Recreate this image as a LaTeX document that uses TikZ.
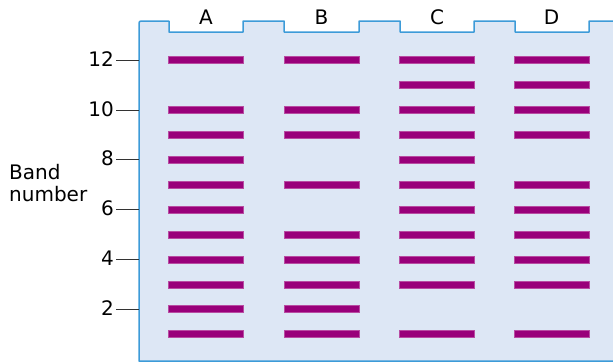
\documentclass[tikz,border=0pt]{standalone}
\usepackage{fontspec}
\setmainfont{DejaVu Sans}
\definecolor{gel}{HTML}{DDE7F5}
\definecolor{gelline}{HTML}{3D9BD8}
\definecolor{bandc}{HTML}{99007A}
\begin{document}
\begin{tikzpicture}[x=1pt,y=-1pt,
  font=\fontsize{20}{23}\selectfont,
  bandbox/.style={fill=bandc, draw=bandc!70!white, line width=0.4pt, minimum width=75pt, minimum height=7pt, inner sep=0pt, outer sep=0pt},
  ticklbl/.style={anchor=east, inner sep=0pt},
  lanelbl/.style={anchor=base, inner sep=0pt},
  sidelbl/.style={anchor=base west, inner sep=0pt},
  tickline/.style={line width=0.7pt, black!80}]
\useasboundingbox (0,0) rectangle (613,362);
% gel body
\fill[gel] (613,21) -- (589,21) -- (589,32) -- (515,32) -- (515,21) -- (474,21) -- (474,32) -- (400,32) -- (400,21) -- (359,21) -- (359,32) -- (284,32) -- (284,21) -- (243,21) -- (243,32) -- (169,32) -- (169,21) -- (139,21) -- (139,361) -- (613,361) -- cycle;
\draw[gelline, line width=1.5pt, line join=round] (614,21) -- (589,21) -- (589,32) -- (515,32) -- (515,21) -- (474,21) -- (474,32) -- (400,32) -- (400,21) -- (359,21) -- (359,32) -- (284,32) -- (284,21) -- (243,21) -- (243,32) -- (169,32) -- (169,21) -- (141,21) to[out=180,in=90] (139,23) -- (139,361) -- (614,361);
% lane labels
\node[lanelbl] (lA) at (206,24) {A};
\node[lanelbl] (lB) at (321.5,24) {B};
\node[lanelbl] (lC) at (437,24) {C};
\node[lanelbl] (lD) at (551.5,24) {D};
% bands
\foreach \lane/\x/\list in {A/206/{1,2,3,4,5,6,7,8,9,10,12},
                            B/321.5/{1,2,3,4,5,7,9,10,12},
                            C/437/{1,3,4,5,6,7,8,9,10,11,12},
                            D/551.5/{1,3,4,5,6,7,9,10,11,12}} {
  \foreach \n in \list {
    \node[bandbox] (b\lane\n) at (\x,{334-(\n-1)*24.9}) {};
  }
}
% ticks
\foreach \n in {2,4,6,8,10,12} {
  \coordinate (t\n) at (138.5,{334-(\n-1)*24.9});
  \coordinate (s\n) at (116,{334-(\n-1)*24.9});
  \draw[tickline] (s\n) -- (t\n);
  \node[ticklbl] (n\n) at (114,{334-(\n-1)*24.9-1}) {\n};
}
\node[sidelbl] (band) at (9,179) {Band};
\node[sidelbl] (number) at (9,201) {number};
\end{tikzpicture}
\end{document}
